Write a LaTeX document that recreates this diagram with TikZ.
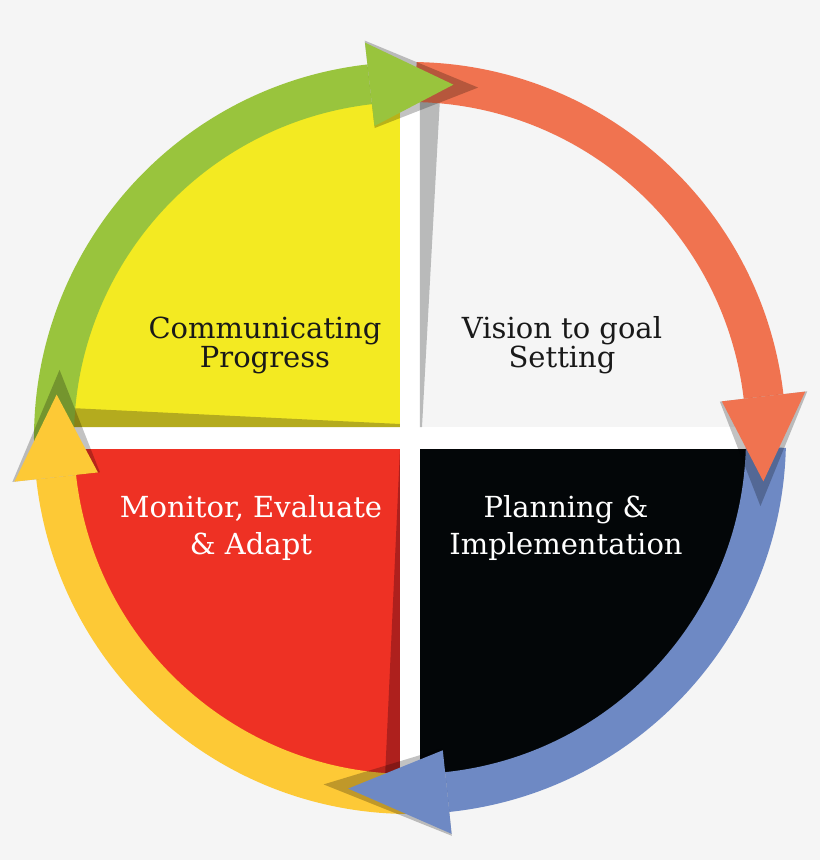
\documentclass[tikz,border=0pt]{standalone}
\usepackage{fontspec}
\setmainfont{DejaVu Serif}
\definecolor{pagegray}{HTML}{F5F5F5}
\definecolor{quadyellow}{HTML}{F3EA22}
\definecolor{quadolive}{HTML}{B4AB1E}
\definecolor{quadred}{HTML}{EE3124}
\definecolor{quaddarkred}{HTML}{AE201D}
\definecolor{quadblack}{HTML}{030608}
\definecolor{quadshade}{HTML}{B9BABA}
\definecolor{arrowgreen}{HTML}{99C43D}
\definecolor{arroworange}{HTML}{F07350}
\definecolor{arrowblue}{HTML}{6E89C4}
\definecolor{arrowgold}{HTML}{FDC936}
\begin{document}
\begin{tikzpicture}[x=1pt,y=1pt,
  toptext/.style={align=center,text=black!90,font=\fontsize{29}{29}\selectfont},
  bottomtext/.style={align=center,text=white,font=\fontsize{29}{37}\selectfont},
  headshadow/.style={fill=black,opacity=.24}]
% page
\fill[pagegray] (-410,-422) rectangle (410,438);
\useasboundingbox (-410,-422) rectangle (410,438);
% the four quarters
\fill[white] (0,0) circle (337);
\begin{scope}
\clip (0,0) circle (337);
\fill[quadyellow] (-10,11) rectangle (-340,340);
\fill[quadolive] (-340,11) -- (-340,30) -- (-10,14) -- (-10,11) -- cycle;
\fill[pagegray] (10,11) rectangle (340,340);
\fill[quadshade] (10,11) -- (12,11) -- (30,340) -- (10,340) -- cycle;
\fill[quadred] (-10,-11) rectangle (-340,-340);
\fill[quaddarkred] (-10,-11) -- (-10,-340) -- (-25,-340) -- cycle;
\fill[quadblack] (10,-11) rectangle (340,-340);
\end{scope}
% bands of the cycle
\fill[arrowgreen] (182:336) arc[start angle=182,end angle=96.5,radius=336] -- (96.5:376) arc[start angle=96.5,end angle=182,radius=376] -- cycle;
\fill[arroworange] (89:336) arc[start angle=89,end angle=6.7,radius=336] -- (6.7:376) arc[start angle=6.7,end angle=89,radius=376] -- cycle;
\fill[arrowblue] (-1.5:336) arc[start angle=-1.5,end angle=-84,radius=336] -- (-84:376) arc[start angle=-84,end angle=-1.5,radius=376] -- cycle;
\fill[arrowgold] (-88.5:336) arc[start angle=-88.5,end angle=-173.7,radius=336] -- (-173.7:376) arc[start angle=-173.7,end angle=-88.5,radius=376] -- cycle;
% heads
\fill[headshadow] (96.5:312) -- (79:357) -- (96.5:400) -- cycle;
\fill[arrowgreen] (96.5:314) -- (83:356) -- (96.5:398) -- cycle;
\fill[headshadow] (6.7:312) -- (-11:357) -- (6.7:400) -- cycle;
\fill[arroworange] (6.7:314) -- (-7:356) -- (6.7:398) -- cycle;
\fill[headshadow] (-84:312) -- (-104:357) -- (-84:400) -- cycle;
\fill[arrowblue] (-84:314) -- (-100:356) -- (-84:398) -- cycle;
\fill[headshadow] (-173.7:312) -- (-191:357) -- (-173.7:400) -- cycle;
\fill[arrowgold] (-173.7:314) -- (-187:356) -- (-173.7:398) -- cycle;
% labels
\node[toptext] (comm) at (-145,92.5) {Communicating\\Progress};
\node[toptext] (vision) at (152,92.5) {Vision to goal\\Setting};
\node[bottomtext] (plan) at (156,-89.5) {Planning \&\\Implementation};
\node[bottomtext] (monitor) at (-159,-89.5) {Monitor, Evaluate\\\& Adapt};
\end{tikzpicture}
\end{document}
